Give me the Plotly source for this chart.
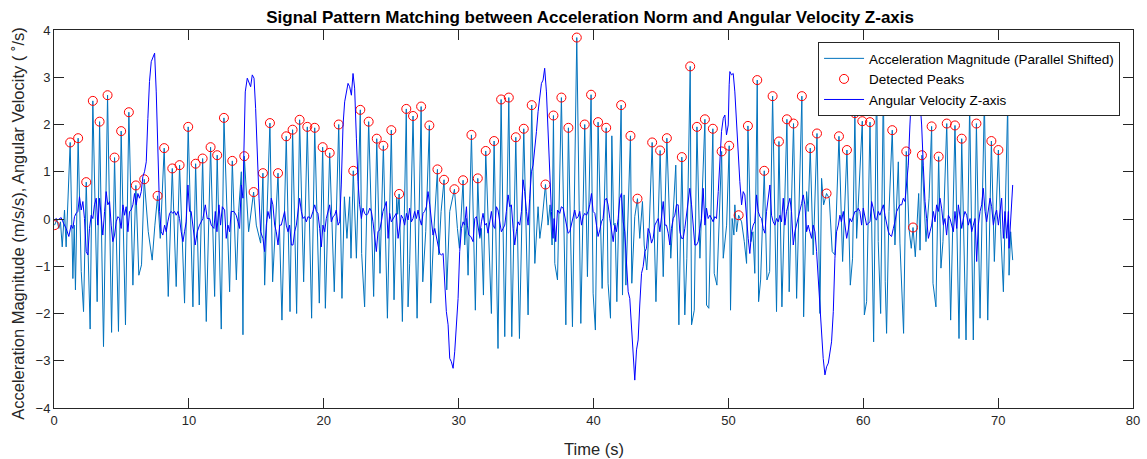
import plotly.graph_objects as go

# Acceleration magnitude (parallel shifted) - vertices of the trace
acc_t = [0.04, 0.21, 0.36, 0.48, 0.61, 0.78, 0.90, 1.20, 1.40, 1.50, 1.59, 1.79, 2.02, 2.19, 2.39, 2.68, 2.88, 3.20, 3.38, 3.67,
         3.97, 4.27, 4.49, 4.78, 4.98, 5.30, 5.55, 5.85, 6.07, 6.29, 6.49, 6.69, 6.99, 7.28, 7.48, 7.68, 7.88, 8.17, 8.47, 8.77,
         9.06, 9.31, 9.68, 9.95,
         10.30, 10.50, 10.77, 11.02, 11.29, 11.61, 11.91, 12.10, 12.40, 12.60, 13.02, 13.22, 13.52, 13.69, 13.89, 14.01, 14.11,
         14.43, 14.80, 15.00, 15.32, 15.49, 15.62, 16.01, 16.21, 16.61, 16.90, 17.22, 17.50, 17.69, 17.99, 18.21, 18.51, 18.78,
         19.10, 19.33, 19.67, 19.92,
         20.12, 20.44, 20.78, 21.11, 21.35, 21.53, 21.72, 21.92, 22.02, 22.19, 22.42, 22.71, 22.81, 23.03, 23.33, 23.70, 23.93,
         24.17, 24.42, 24.72, 25.01, 25.21, 25.41, 25.48, 25.59, 25.83, 26.12, 26.25, 26.37, 26.62, 26.92, 27.22, 27.34, 27.56,
         27.83, 27.93, 28.16, 28.43, 28.53, 28.70, 28.92, 29.12, 29.34, 29.69,
         29.91, 30.06, 30.33, 30.45, 30.58, 30.70, 30.95, 31.24, 31.42, 31.57, 31.69, 31.84, 32.01, 32.43, 32.63, 32.92, 33.15,
         33.42, 33.72, 33.94, 34.24, 34.51, 34.83, 35.15, 35.42, 35.65, 35.89, 36.02, 36.19, 36.44, 36.63, 36.78, 36.93, 37.03,
         37.13, 37.33, 37.62, 37.95, 38.14, 38.44, 38.76, 39.06, 39.35, 39.55, 39.82,
         39.97, 40.14, 40.34, 40.64, 40.94, 41.08, 41.26, 41.36, 41.50, 41.60, 41.73, 42.05, 42.15, 42.27, 42.40, 42.74, 42.84,
         43.06, 43.26, 43.43, 43.63, 43.76, 43.95, 44.13, 44.35, 44.63, 44.94, 45.17, 45.44, 45.73, 46.10, 46.33, 46.55, 46.77,
         46.92, 47.17, 47.27, 47.47, 47.67, 47.89, 48.04, 48.26, 48.38, 48.55, 48.85, 48.95, 49.15, 49.50, 49.62, 49.87, 50.06,
         50.16, 50.28, 50.41, 50.48, 50.61, 50.76, 50.98, 51.18, 51.35, 51.45, 51.67, 51.82, 51.96, 52.14, 52.24, 52.39, 52.66,
         52.86, 53.06, 53.28, 53.57, 53.75, 53.97, 54.34, 54.51, 54.83, 55.06, 55.45, 55.58, 55.80, 55.92, 56.07, 56.29, 56.57,
         56.79, 56.91, 57.06, 57.28, 57.48, 57.70, 57.90, 58.20, 58.47, 58.79, 59.04, 59.21, 59.38, 59.51, 59.93,
         60.08, 60.25, 60.50, 60.77, 60.99, 61.11, 61.29, 61.49, 61.63, 61.73, 61.91, 62.15, 62.35, 62.60, 62.72, 62.99, 63.19,
         63.39, 63.56, 63.69, 63.86, 64.11, 64.21, 64.35, 64.65, 64.88, 65.07, 65.17, 65.39, 65.59, 65.76, 65.91, 66.19, 66.48,
         66.80, 67.10, 67.30, 67.62, 67.89, 68.16, 68.39, 68.66, 68.98, 69.23, 69.50, 69.72, 70.02,
         70.19, 70.39, 70.71, 70.81, 70.93, 71.08]
acc_v = [-0.13, -0.02, -0.20, -0.06, -0.59, 0.19, -0.59, 1.62, -1.26, -0.13, -1.50, 1.71, -1.11, -1.96, 0.78, -2.33, 2.50, -1.75, 2.06, -2.70,
         2.62, -2.40, 1.30, -2.38, 1.86, -2.24, 2.26, -1.40, 0.71, -1.19, -0.97, 0.84, -0.27, -0.87, -0.13, 0.49, -0.41, 1.50, -1.64, 1.07,
         -1.43, 1.14, -1.78, 1.95,
         -1.86, 1.17, -1.82, 1.28, -2.17, 1.52, -1.64, 1.35, -2.33, 2.14, -1.54, 1.23, -1.29, 0.16, 1.00, -2.45, 1.33,
         -0.27, 0.57, -0.13, -0.51, 0.97, -1.40, 2.03, -1.33, 0.97, -2.14, 1.75, -1.96, 1.89, -2.00, 2.10, -1.33, 1.95,
         -2.10, 1.93, -1.78, 1.52,
         -1.89, 1.40, -1.54, 2.00, -1.68, 0.47, -0.41, 0.47, -0.83, 1.02, -0.83, 2.31, -0.73, -1.86, 2.06, -1.64, 1.70,
         -1.15, 1.55, -2.10, 1.88, -1.71, 0.45, 0.10, 0.53, -2.17, 2.33, -1.86, -0.94, 2.18, -2.10, 2.38, -1.33, -0.27,
         1.98, -1.78, -0.27, 1.05, -0.76, 0.16, 0.83, -1.50, 0.16, 0.63,
         -0.20, -0.62, 0.82, -0.55, 0.01, -1.19, 1.78, -1.93, 0.86, -0.41, -0.20, -1.61, 1.44, -2.00, 1.65, -2.74, 2.53,
         -2.49, 2.57, -2.49, 1.73, -2.53, 1.91, -2.03, 2.41, -0.94, 0.26, -0.41, -0.02, 0.73, -0.13, 0.30, -0.55, 2.19,
         -0.94, -1.29, 2.57, -2.24, 1.93, -2.28, 3.84, -2.21, 2.00, -1.22, 2.63,
         -1.57, -2.35, 2.05, -1.47, 1.93, -1.36, -2.10, 1.76, -0.13, -0.09, -1.75, 2.41, -1.61, 0.51, -1.40, 1.76, -1.36,
         0.05, 0.43, -0.41, 0.37, -0.55, -1.08, -0.20, 1.62, -1.75, 1.45, -1.22, 1.71, -0.83, 1.14, -2.24, 1.31, -2.03,
         -0.83, 3.23, -2.24, -1.93, 1.95, -0.83, 0.30, 2.11, -1.82, -1.89, 1.91, -1.15, -1.40, 1.43, -0.83, -0.13, 1.55,
         -1.93, 0.01, -0.34, 0.30, -0.27, 0.08, -0.06, -0.48, -0.94, 1.97, -0.48, -0.27, -1.15, 2.94, -1.75, -1.29, 1.02,
         -1.29, -1.11, 2.60, -1.96, 1.64, -1.86, 2.11, -1.54, 2.02, -1.68, 2.60, -2.07, 0.58, 0.16, 1.50, -0.76, 1.81,
         -2.00, 0.86, 0.30, 0.54, 0.44, -0.69, -0.76, 1.75, -0.90, 1.46, -1.40, -0.83, 2.24, -0.41, 2.07,
         -2.03, -1.75, 2.05, -2.60, 3.00, -0.48, -2.00, 2.85, -1.33, -2.42, 0.16, 1.88, -0.55, 1.21, -0.51, -2.42, 1.43,
         -0.20, -0.62, -0.18, -0.80, 0.54, -0.66, 1.35, -0.48, 0.44, 1.96, -1.36, -1.86, 1.32, -1.04, -0.48, 2.02, -2.14,
         1.98, -2.53, 1.70, -2.56, 2.40, -2.56, 2.02, -2.10, 2.52, -2.14, 1.65, -0.90, 1.46,
         -0.23, -1.54, 2.43, -1.19, -0.27, -0.87]

# Detected peaks of the acceleration trace
peak_t = [0.04, 1.20, 1.79, 2.39, 2.88, 3.38, 3.97, 4.49, 4.98, 5.55, 6.07, 6.69, 7.68, 8.17, 8.77, 9.31, 9.95,
          10.50, 11.02, 11.61, 12.10, 12.60, 13.22, 14.11, 14.80, 15.49, 16.01, 16.61, 17.22, 17.69, 18.21, 18.78, 19.33, 19.92,
          20.44, 21.11, 22.19, 22.71, 23.33, 23.93, 24.42, 25.01, 25.59, 26.12, 26.62, 27.22, 27.83, 28.43, 28.92, 29.69,
          30.33, 30.95, 31.42, 32.01, 32.63, 33.15, 33.72, 34.24, 34.83, 35.42, 36.44, 37.03, 37.62, 38.14, 38.76, 39.35, 39.82,
          40.34, 40.94, 42.05, 42.74, 43.26, 44.35, 44.94, 45.44, 46.55, 47.17, 47.67, 48.26, 48.85, 49.50, 50.06,
          50.76, 51.45, 52.14, 52.66, 53.28, 53.75, 54.34, 54.83, 55.45, 56.07, 56.57, 57.28, 58.20, 58.79, 59.38, 59.93,
          60.50, 60.99, 61.49, 62.15, 63.19, 63.69, 64.35, 65.07, 65.59, 66.19, 66.80, 67.30, 67.89, 68.39, 68.98, 69.50, 70.02, 70.71]
peak_v = [-0.13, 1.62, 1.71, 0.78, 2.50, 2.06, 2.62, 1.30, 1.86, 2.26, 0.71, 0.84, 0.49, 1.50, 1.07, 1.14, 1.95,
          1.17, 1.28, 1.52, 1.35, 2.14, 1.23, 1.33, 0.57, 0.97, 2.03, 0.97, 1.75, 1.89, 2.10, 1.95, 1.93, 1.52,
          1.40, 2.00, 1.02, 2.31, 2.06, 1.70, 1.55, 1.88, 0.53, 2.33, 2.18, 2.38, 1.98, 1.05, 0.83, 0.63,
          0.82, 1.78, 0.86, 1.44, 1.65, 2.53, 2.57, 1.73, 1.91, 2.41, 0.73, 2.19, 2.57, 1.93, 3.84, 2.00, 2.63,
          2.05, 1.93, 2.41, 1.76, 0.43, 1.62, 1.45, 1.71, 1.31, 3.23, 1.95, 2.11, 1.91, 1.43, 1.55,
          0.08, 1.97, 2.94, 1.02, 2.60, 1.64, 2.11, 2.02, 2.60, 1.50, 1.81, 0.54, 1.75, 1.46, 2.24, 2.07,
          2.05, 3.00, 2.85, 1.88, 1.43, -0.18, 1.35, 1.96, 1.32, 2.02, 1.98, 1.70, 2.40, 2.02, 2.52, 1.65, 1.46, 2.43]

# Angular velocity about the Z axis
gyro_t = [0.04, 0.16, 0.28, 0.53, 0.66, 0.90, 1.10, 1.27, 1.40, 1.52, 1.64, 1.77, 1.89, 2.02, 2.14, 2.26, 2.39, 2.51, 2.63, 2.76,
          2.88, 3.00, 3.13, 3.25, 3.38, 3.50, 3.62, 3.75, 3.87, 3.99, 4.12, 4.24, 4.36, 4.49, 4.61, 4.74, 4.86, 4.98, 5.11, 5.23,
          5.35, 5.48, 5.60, 5.72, 5.85, 5.97, 6.10, 6.22, 6.34, 6.47, 6.59, 6.71, 6.84, 6.96, 7.08, 7.21, 7.33, 7.46, 7.58, 7.70,
          7.83, 7.95, 8.07, 8.20, 8.32, 8.44, 8.57, 8.69, 8.81, 8.94, 9.06, 9.19, 9.31, 9.43, 9.56, 9.68, 9.80,
          9.93, 10.05, 10.17, 10.30, 10.47, 10.62, 10.79, 11.04, 11.22, 11.36, 11.54, 11.66, 11.86, 11.96, 12.08, 12.23, 12.35,
          12.48, 12.65, 12.77, 12.90, 13.02, 13.14, 13.34, 13.51, 13.64, 13.76, 13.89, 14.01, 14.08, 14.18, 14.33, 14.45, 14.58,
          14.70, 14.83, 14.95, 15.07, 15.20, 15.32, 15.49, 15.62, 15.74, 15.86, 15.99, 16.11, 16.23, 16.36, 16.48, 16.61, 16.73,
          16.85, 16.98, 17.10, 17.22, 17.35, 17.47, 17.60, 17.72, 17.84, 17.97, 18.09, 18.21, 18.34, 18.46, 18.58, 18.71, 18.83,
          19.03, 19.20, 19.33, 19.45, 19.57, 19.70, 19.82, 19.94,
          20.07, 20.19, 20.31, 20.44, 20.56, 20.69, 20.81, 20.93, 21.06, 21.18, 21.30, 21.43, 21.55, 21.67, 21.80, 21.92, 22.05,
          22.17, 22.29, 22.42, 22.54, 22.66, 22.79, 22.91, 23.03, 23.16, 23.28, 23.41, 23.53, 23.65, 23.78, 23.90, 24.02, 24.15,
          24.27, 24.39, 24.52, 24.64, 24.77, 24.89, 25.01, 25.14, 25.26, 25.38, 25.51, 25.63, 25.75, 25.88, 26.00, 26.13, 26.25,
          26.37, 26.50, 26.62, 26.74, 26.87, 26.99, 27.11, 27.24, 27.36, 27.48, 27.61, 27.73, 27.86, 27.98, 28.10, 28.23, 28.35,
          28.47, 28.60, 28.72, 28.85, 28.97, 29.09, 29.22, 29.34, 29.46, 29.59, 29.71, 29.83, 29.96,
          30.08, 30.21, 30.33, 30.45, 30.58, 30.65, 30.75, 30.90, 31.07, 31.20, 31.32, 31.44, 31.56, 31.69, 31.81, 31.94, 32.06,
          32.18, 32.31, 32.43, 32.55, 32.68, 32.80, 32.92, 33.05, 33.17, 33.30, 33.42, 33.54, 33.67, 33.79, 33.91, 34.04, 34.16,
          34.28, 34.41, 34.53, 34.66, 34.78, 34.90, 35.03, 35.15, 35.27, 35.40, 35.52, 35.64, 35.77, 35.89, 36.01, 36.14, 36.26,
          36.38, 36.51, 36.63, 36.76, 36.88, 37.00, 37.08, 37.20, 37.33, 37.50, 37.62, 37.75, 37.87, 37.99, 38.12, 38.24, 38.36,
          38.49, 38.61, 38.73, 38.86, 38.98, 39.11, 39.23, 39.35, 39.48, 39.60, 39.72, 39.85, 39.97,
          40.10, 40.22, 40.34, 40.47, 40.59, 40.71, 40.84, 40.96, 41.08, 41.21, 41.33, 41.46, 41.58, 41.70, 41.83, 41.95, 42.07,
          42.20, 42.32, 42.45, 42.57, 42.69, 42.82, 42.94, 43.06, 43.19, 43.31, 43.43, 43.56, 43.68, 43.81, 43.93, 44.05, 44.18,
          44.30, 44.42, 44.55, 44.67, 44.80, 44.92, 45.04, 45.17, 45.29, 45.41, 45.54, 45.66, 45.78, 45.91, 46.03, 46.15, 46.28,
          46.40, 46.53, 46.65, 46.77, 46.90, 47.02, 47.14, 47.27, 47.39, 47.51, 47.64, 47.76, 47.89, 48.01, 48.13, 48.26, 48.38,
          48.50, 48.63, 48.75, 48.87, 49.00, 49.12, 49.25, 49.37, 49.49, 49.62, 49.74, 49.86, 49.99, 50.06,
          50.11, 50.23, 50.36, 50.48, 50.61, 50.73, 50.85, 50.98, 51.10, 51.22, 51.35, 51.47, 51.59, 51.72, 51.84, 51.96, 52.09,
          52.21, 52.34, 52.46, 52.58, 52.71, 52.83, 52.95, 53.08, 53.20, 53.32, 53.45, 53.57, 53.70, 53.82, 53.94, 54.07, 54.19,
          54.31, 54.44, 54.56, 54.68, 54.81, 54.93, 55.06, 55.18, 55.30, 55.43, 55.55, 55.67, 55.80, 55.92, 56.04, 56.17, 56.29,
          56.42, 56.54, 56.66, 56.79, 56.91, 57.03, 57.16, 57.28, 57.41, 57.53, 57.65, 57.78, 57.90, 58.02, 58.15, 58.27, 58.38,
          58.52, 58.64, 58.77, 58.89, 59.01, 59.14, 59.26, 59.38, 59.51, 59.63, 59.75, 59.88, 60.00,
          60.13, 60.25, 60.37, 60.50, 60.62, 60.74, 60.87, 60.99, 61.11, 61.24, 61.36, 61.49, 61.61, 61.73, 61.86, 61.98, 62.10,
          62.23, 62.35, 62.48, 62.60, 62.72, 62.85, 62.97, 63.09, 63.22, 63.34, 63.46, 63.59, 63.71, 63.84, 63.96, 64.08, 64.21,
          64.33, 64.45, 64.58, 64.70, 64.83, 64.95, 65.07, 65.20, 65.32, 65.44, 65.57, 65.69, 65.81, 65.94, 66.06, 66.18, 66.31,
          66.43, 66.56, 66.68, 66.80, 66.93, 67.05, 67.17, 67.30, 67.42, 67.54, 67.67, 67.79, 67.92, 68.04, 68.16, 68.29, 68.41,
          68.53, 68.66, 68.78, 68.90, 69.03, 69.15, 69.28, 69.40, 69.52, 69.65, 69.77, 69.89, 70.02,
          70.14, 70.26, 70.39, 70.51, 70.64, 70.76, 70.81, 70.93, 71.08]
gyro_v = [-0.02, 0.01, -0.02, 0.03, -0.06, -0.20, -0.37, -0.13, -0.20, 0.05, 0.12, 0.16, 0.47, 0.19, 0.37, 0.01, -0.69, -0.76, -0.20, 0.08,
          0.01, 0.30, 0.44, -0.13, 0.44, -0.06, -0.34, 0.16, 0.58, 0.30, 0.37, -0.13, -0.48, -0.34, -0.06, 0.05, 0.01, -0.20, 0.30, 0.08,
          0.26, -0.27, 0.16, 0.19, 0.30, 0.54, 0.30, 0.54, 0.44, 0.58, 0.90, 1.00, 1.21, 2.13, 2.91, 3.33, 3.44, 3.51, 2.69, 1.28,
          0.16, -0.27, -0.34, -0.13, -0.27, -0.06, 0.12, 0.16, 0.12, 0.16, 0.08, 0.16, 0.01, -0.27, -0.48, -0.27, -0.06,
          0.72, 0.16, 0.16, -0.13, -0.55, -0.27, -0.13, 0.01, 0.30, 0.01, 0.01, -0.13, -0.20, 0.16, -0.27, 0.30, -0.13,
          0.26, 0.19, -0.41, -0.13, -0.27, 0.16, 0.16, 0.08, -0.06, -0.20, 0.72, 0.44, 1.43, 2.69, 2.98, 2.87, 2.80,
          3.05, 2.98, 2.34, 1.28, 0.44, -0.27, -0.41, -0.69, -0.13, 0.16, 0.01, 0.44, 0.30, -0.13, -0.27, -0.55, -0.13,
          -0.13, 0.01, 0.16, -0.13, -0.27, -0.13, -0.55, -0.55, -0.27, -0.13, 0.16, 0.44, 0.16, 0.01, 0.05, -0.06, 0.05,
          0.01, 0.16, 0.30, 0.16, 0.12, -0.20, -0.59, -0.13,
          -0.27, 0.01, 0.16, 0.30, -0.06, 0.05, 0.08, 0.19, -0.13, -0.06, 0.72, 1.99, 2.48, 2.69, 2.87, 2.80, 2.62,
          3.08, 2.77, 1.71, 0.79, 0.30, 0.01, 0.23, 0.12, 0.08, 0.12, 0.23, 0.16, -0.06, -0.41, -0.69, -0.27, -0.23,
          -0.06, 0.16, 0.26, 0.37, -0.41, 0.12, -0.06, 0.01, 0.08, 0.12, -0.41, -0.13, 0.08, 0.01, -0.13, 0.12, -0.02,
          0.23, -0.06, 0.01, 0.16, 0.01, 0.19, 0.01, -0.13, 0.12, 0.16, 0.26, 0.58, 0.30, 0.01, -0.34, -0.20, -0.41,
          -0.55, -0.73, -0.76, -0.73, -1.40, -1.96, -2.24, -2.95, -3.02, -3.16, -2.81, -2.17, -1.68,
          -0.69, -0.20, -0.06, -0.13, 0.26, -0.13, -0.34, -0.37, -0.48, 0.01, 0.05, -0.13, -0.37, -0.06, 0.12, -0.13, -0.09,
          -0.30, -0.06, 0.16, -0.13, -0.20, 0.26, 0.19, -0.06, -0.27, -0.20, -0.13, 0.16, 0.51, 0.26, 0.30, -0.20, -0.55,
          -0.27, -0.06, -0.13, 0.16, 0.83, 0.58, 0.16, -0.13, 0.44, 1.00, 1.14, 1.43, 1.85, 2.27, 2.62, 2.87, 2.94,
          3.19, 2.69, 1.78, 1.21, 0.16, -0.41, 0.01, -0.48, 0.19, 0.12, 0.26, 0.23, 0.05, -0.13, -0.30, -0.27, -0.13,
          0.01, 0.19, 0.01, 0.05, 0.16, -0.13, 0.05, 0.12, 0.08, 0.16, 0.30, 0.54, 0.16,
          0.12, -0.13, -0.37, -0.23, -0.06, 0.01, 0.40, 0.44, 0.30, 0.01, -0.27, -0.48, -0.13, -0.27, 0.01, 0.44, 0.54,
          -0.06, -0.27, -0.97, -1.54, -1.68, -2.24, -2.95, -3.41, -2.77, -2.56, -1.82, -1.15, -1.01, -0.69, -0.62, -0.20, -0.30,
          -0.51, -0.41, -0.13, -0.06, 0.01, -0.27, 0.01, 0.37, -0.13, -0.13, -0.30, -0.55, -0.20, 0.01, 0.08, 0.30, 0.30,
          -0.27, -0.41, -0.41, -0.20, 0.08, 0.44, 0.65, 0.30, -0.06, -0.55, -0.55, -0.48, -0.20, 0.01, 0.65, -0.13, 0.23,
          0.01, 0.08, 0.01, -0.06, 0.05, 0.01, 0.58, 1.28, 1.85, 2.13, 2.20, 1.78, 1.99, 2.84,
          3.12, 3.05, 3.08, 2.69, 1.99, 1.28, 0.79, 0.30, 0.58, 0.51, -0.06, -0.41, -0.73, -0.27, -0.13, -0.06, 0.51,
          0.16, 0.05, 0.01, -0.20, -0.30, 0.16, 0.44, 0.72, 0.08, -0.06, -0.13, 0.01, -0.06, 0.08, -0.06, 0.44, -0.13,
          0.16, 0.30, 0.44, 0.16, -0.55, -0.27, -0.13, 0.01, 0.16, 0.33, 0.51, 0.30, -0.27, -0.13, -0.27, -0.41, -0.13,
          -0.27, -0.69, -1.26, -1.89, -2.38, -2.95, -3.30, -3.13, -3.05, -2.81, -2.60, -1.96, -0.83, -0.27, -0.13, 0.08, -0.06,
          0.16, -0.13, -0.41, -0.23, 0.01, -0.06, 0.08, 0.16, 0.16, 0.23, 0.16, -0.13, 0.23,
          0.01, -0.13, -0.09, -0.06, 0.37, 0.23, 0.01, -0.02, 0.16, 0.08, 0.19, 0.30, 0.08, -0.13, -0.27, -0.34, -0.37,
          -0.20, -0.06, 0.16, 0.23, 0.30, 0.30, 0.44, 0.37, 0.72, 1.14, 1.99, 2.70, 3.05, 3.15, 3.10, 2.95, 2.48,
          1.99, 1.14, 0.37, 0.01, -0.41, -0.27, -0.13, 0.16, -0.06, 0.30, 0.16, 0.44, 0.23, -0.13, 0.01, -0.34, 0.08,
          0.01, -0.13, -0.27, 0.16, -0.20, 0.30, 0.08, -0.20, 0.01, 0.16, 0.08, -0.13, 0.01, -0.27, -0.13, 0.01, -0.90,
          -0.13, 0.16, 0.30, 0.65, 0.16, -0.06, 0.16, 0.44, 0.26, -0.13, 0.08, 0.19, -0.13,
          0.16, 0.44, -0.41, 0.16, -0.41, 0.16, -0.62, -0.06, 0.72]

FONT = "Liberation Sans, Arial, Helvetica, sans-serif"
INK = "#262626"

fig = go.Figure()

fig.add_trace(go.Scatter(
    x=acc_t, y=acc_v, mode="lines",
    name="Acceleration Magnitude (Parallel Shifted)",
    line=dict(color="#0072BD", width=1),
))
fig.add_trace(go.Scatter(
    x=peak_t, y=peak_v, mode="markers",
    name="Detected Peaks",
    marker=dict(symbol="circle-open", size=9, color="#FF0000", line=dict(width=1, color="#FF0000")),
))
fig.add_trace(go.Scatter(
    x=gyro_t, y=gyro_v, mode="lines",
    name="Angular Velocity Z-axis",
    line=dict(color="#0000FF", width=1),
))

axis_common = dict(
    showline=True, linecolor=INK, linewidth=1, mirror="ticks",
    ticks="inside", ticklen=10, tickwidth=1, tickcolor=INK,
    showgrid=False, zeroline=False, automargin=False,
    tickfont=dict(family=FONT, size=13, color=INK),
)

fig.update_layout(
    width=1147, height=459,
    margin=dict(l=54, r=14, t=30, b=51),
    paper_bgcolor="white", plot_bgcolor="white",
    font=dict(family=FONT, color=INK),
    title=dict(
        text="<b>Signal Pattern Matching between Acceleration Norm and Angular Velocity Z-axis</b>",
        x=0.5145, xanchor="center", y=0.962, yanchor="middle",
        font=dict(family=FONT, size=17, color="#000000"),
    ),
    xaxis=dict(range=[0, 80], tickmode="linear", tick0=0, dtick=10, **axis_common),
    yaxis=dict(range=[-4, 4], tickmode="linear", tick0=-4, dtick=1, **axis_common),
    legend=dict(
        x=0.988, xanchor="right", y=0.968, yanchor="top",
        bgcolor="white", bordercolor=INK, borderwidth=1,
        font=dict(family=FONT, size=13.5, color="#000000"),
        tracegroupgap=0, itemwidth=40,
    ),
    showlegend=True,
    annotations=[
        # axis titles
        dict(text="Time (s)", xref="paper", yref="paper", x=0.5, y=-0.108,
             xanchor="center", yanchor="middle", showarrow=False,
             font=dict(family=FONT, size=16.5, color=INK)),
        dict(text="Acceleration Magnitude (m/s/s), Angular Velocity ( ˚/s)",
             xref="paper", yref="paper", x=-0.0334, y=0.49, textangle=-90,
             xanchor="center", yanchor="middle", showarrow=False,
             font=dict(family=FONT, size=16.5, color=INK)),
    ],
)

fig.write_html("out.html")
